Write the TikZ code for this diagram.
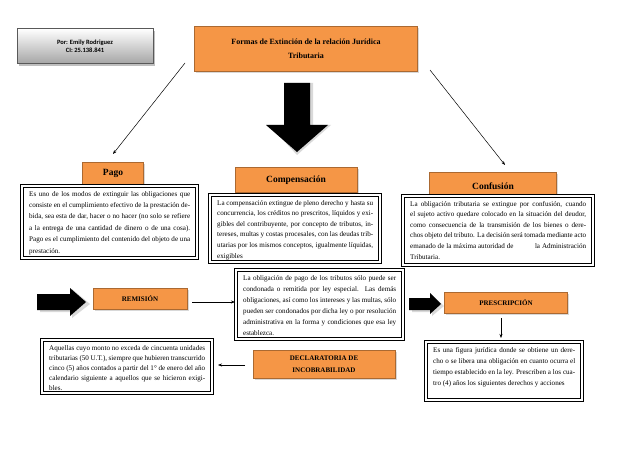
\documentclass[tikz,border=0pt]{standalone}
\usepackage{fontspec}
\setmainfont{Liberation Serif}
\newfontfamily\carlitofont{Carlito}
\usetikzlibrary{shadows,arrows.meta}
\begin{document}
\begin{tikzpicture}[x=1pt,y=-1pt,
 orange/.style={fill=orng,draw=orng!70!black,line width=0.4pt,drop shadow={shadow xshift=1.5pt,shadow yshift=-1.5pt,fill=gray!60}},
 txtbox/.style={draw=black,double=white,double distance=1.2pt,line width=1.4pt,fill=white},
 btxt/.style={font=\fontsize{7.1}{11.4}\selectfont,align=justify,inner sep=0pt,anchor=north west},
 conn/.style={-{Stealth[length=4pt,width=3pt]},line width=0.5pt}]
\definecolor{orng}{RGB}{245,150,70}
\useasboundingbox (0,0) rectangle (638,452);
\fill[white] (0,0) rectangle (638,452);
% author
\node[draw=gray!70!black,top color=white,bottom color=gray!70,minimum width=136pt,minimum height=35pt,font=\carlitofont\bfseries\fontsize{6.5}{8}\selectfont,align=center,drop shadow] (auth) at (85,46) {Por: Emily Rodriguez\\CI: 25.138.841};
% title
\node[orange,minimum width=223pt,minimum height=45pt,font=\bfseries\fontsize{8}{14}\selectfont,align=center] (title) at (306,49) {Formas de Extinción de la relación Jurídica\\Tributaria};
% block arrows
\def\barrow#1#2#3#4#5#6{% x, ytop, stem half width, ystemend, head halfwidth, ybottom
 \fill[gray!30] (#1-#3+3,#2) -- (#1+#3+3,#2) -- (#1+#3+3,#4) -- (#1+#5+3,#4) -- (#1,#6+3) -- (#1-#5+3,#4) -- (#1-#3+3,#4) -- cycle;
 \fill[black] (#1-#3,#2) -- (#1+#3,#2) -- (#1+#3,#4) -- (#1+#5,#4) -- (#1,#6) -- (#1-#5,#4) -- (#1-#3,#4) -- cycle;}
\barrow{297}{83}{13}{125}{31}{152}
\barrow{113}{195}{5}{208}{13}{216}
\barrow{297}{203}{5}{216}{13}{225}
\barrow{493}{210}{5}{222}{13}{231}
% category nodes
\node[orange,minimum width=61pt,minimum height=22pt,font=\bfseries\fontsize{9.5}{10}\selectfont] (pago) at (113,173) {Pago};
\node[orange,minimum width=122pt,minimum height=25pt,font=\bfseries\fontsize{9.5}{10}\selectfont] (comp) at (296,180) {Compensación};
\node[orange,minimum width=127pt,minimum height=28pt,font=\bfseries\fontsize{9.5}{10}\selectfont] (conf) at (493,186) {Confusión};
\coordinate (t1) at (185,63); \coordinate (t2) at (430,70);
\coordinate (pagotop) at (113,154); \coordinate (conftop) at (505,165);
\draw[conn] (t1) -- (pagotop);
\draw[conn] (t2) -- (conftop);
% text boxes
\newcommand\tbox[7]{% name x1 y1 x2 y2 leading text
 \draw[txtbox] (#2,#3) rectangle (#4,#5);
 \begin{scope}\clip (#2+3,#3+3) rectangle (#4-3,#5-3);
 \pgfmathsetlengthmacro\tw{#4-#2-14}
 \node[btxt,text width=\tw,font=\fontsize{7.1}{#6}\selectfont] (#1) at (#2+7,#3+5) {#7};
 \end{scope}}
\tbox{pt}{22}{186}{197}{258}{11.4}{Es uno de los modos de extinguir las obligaciones que consiste en el cumplimiento efectivo de la prestación debida, sea esta de dar, hacer o no hacer (no solo se refiere a la entrega de una cantidad de dinero o de una cosa). Pago es el cumplimiento del contenido del objeto de una prestación.}
\tbox{ct}{210}{195}{380}{262}{10.6}{La compensación extingue de pleno derecho y hasta su concurrencia, los créditos no prescritos, líquidos y exigibles del contribuyente, por concepto de tributos, intereses, multas y costas procesales, con las deudas tributarias por los mismos conceptos, igualmente líquidas, exigibles}
\tbox{cf}{403}{196}{593}{265}{10.6}{La obligación tributaria se extingue por confusión, cuando el sujeto activo quedare colocado en la situación del deudor, como consecuencia de la transmisión de los bienes o derechos objeto del tributo. La decisión será tomada mediante acto emanado de la máxima autoridad de \hspace{2.5em} la Administración Tributaria.}
\tbox{rt}{236}{270}{403}{339}{11}{La obligación de pago de los tributos sólo puede ser condonada o remitida por ley especial. Las demás obligaciones, así como los intereses y las multas, sólo pueden ser condonados por dicha ley o por resolución administrativa en la forma y condiciones que esa ley establezca.}
\tbox{pr}{426}{342}{582}{400}{11}{Es una figura jurídica donde se obtiene un derecho o se libera una obligación en cuanto ocurra el tiempo establecido en la ley. Prescriben a los cuatro (4) años los siguientes derechos y acciones}
\tbox{it}{42}{340}{212}{393}{10}{Aquellas cuyo monto no exceda de cincuenta unidades tributarias (50 U.T.), siempre que hubieren transcurrido cinco (5) años contados a partir del 1° de enero del año calendario siguiente a aquellos que se hicieron exigibles.}
% horizontal block arrows
\fill[gray!30] (40,295) -- (72,295) -- (72,289) -- (90,304) -- (72,318) -- (72,312) -- (40,312) -- cycle;
\fill[black] (37,294) -- (70,294) -- (70,288) -- (86,302) -- (70,316) -- (70,310) -- (37,310) -- cycle;
\fill[gray!30] (412,300) -- (432,300) -- (432,295) -- (444,306) -- (432,316) -- (432,312) -- (412,312) -- cycle;
\fill[black] (409,298) -- (430,298) -- (430,293) -- (441,304) -- (430,314) -- (430,310) -- (409,310) -- cycle;
\node[orange,minimum width=94pt,minimum height=21pt,font=\bfseries\fontsize{7}{8}\selectfont] (rem) at (140,299) {REMISIÓN};
\node[orange,minimum width=123pt,minimum height=21pt,font=\bfseries\fontsize{7}{8}\selectfont] (pres) at (506,303) {PRESCRIPCIÓN};
\node[orange,minimum width=142pt,minimum height=28pt,font=\bfseries\fontsize{7}{12}\selectfont,align=center] (dec) at (324,364) {DECLARATORIA DE\\INCOBRABILIDAD};
\coordinate (rs) at (192,302); \coordinate (re) at (235,302);
\coordinate (ps) at (501,318); \coordinate (pe) at (501,338);
\coordinate (ds) at (245,365); \coordinate (de) at (218,365);
\draw[conn] (rs) -- (re);
\draw[conn] (ps) -- (pe);
\draw[conn] (ds) -- (de);
\end{tikzpicture}
\end{document}
